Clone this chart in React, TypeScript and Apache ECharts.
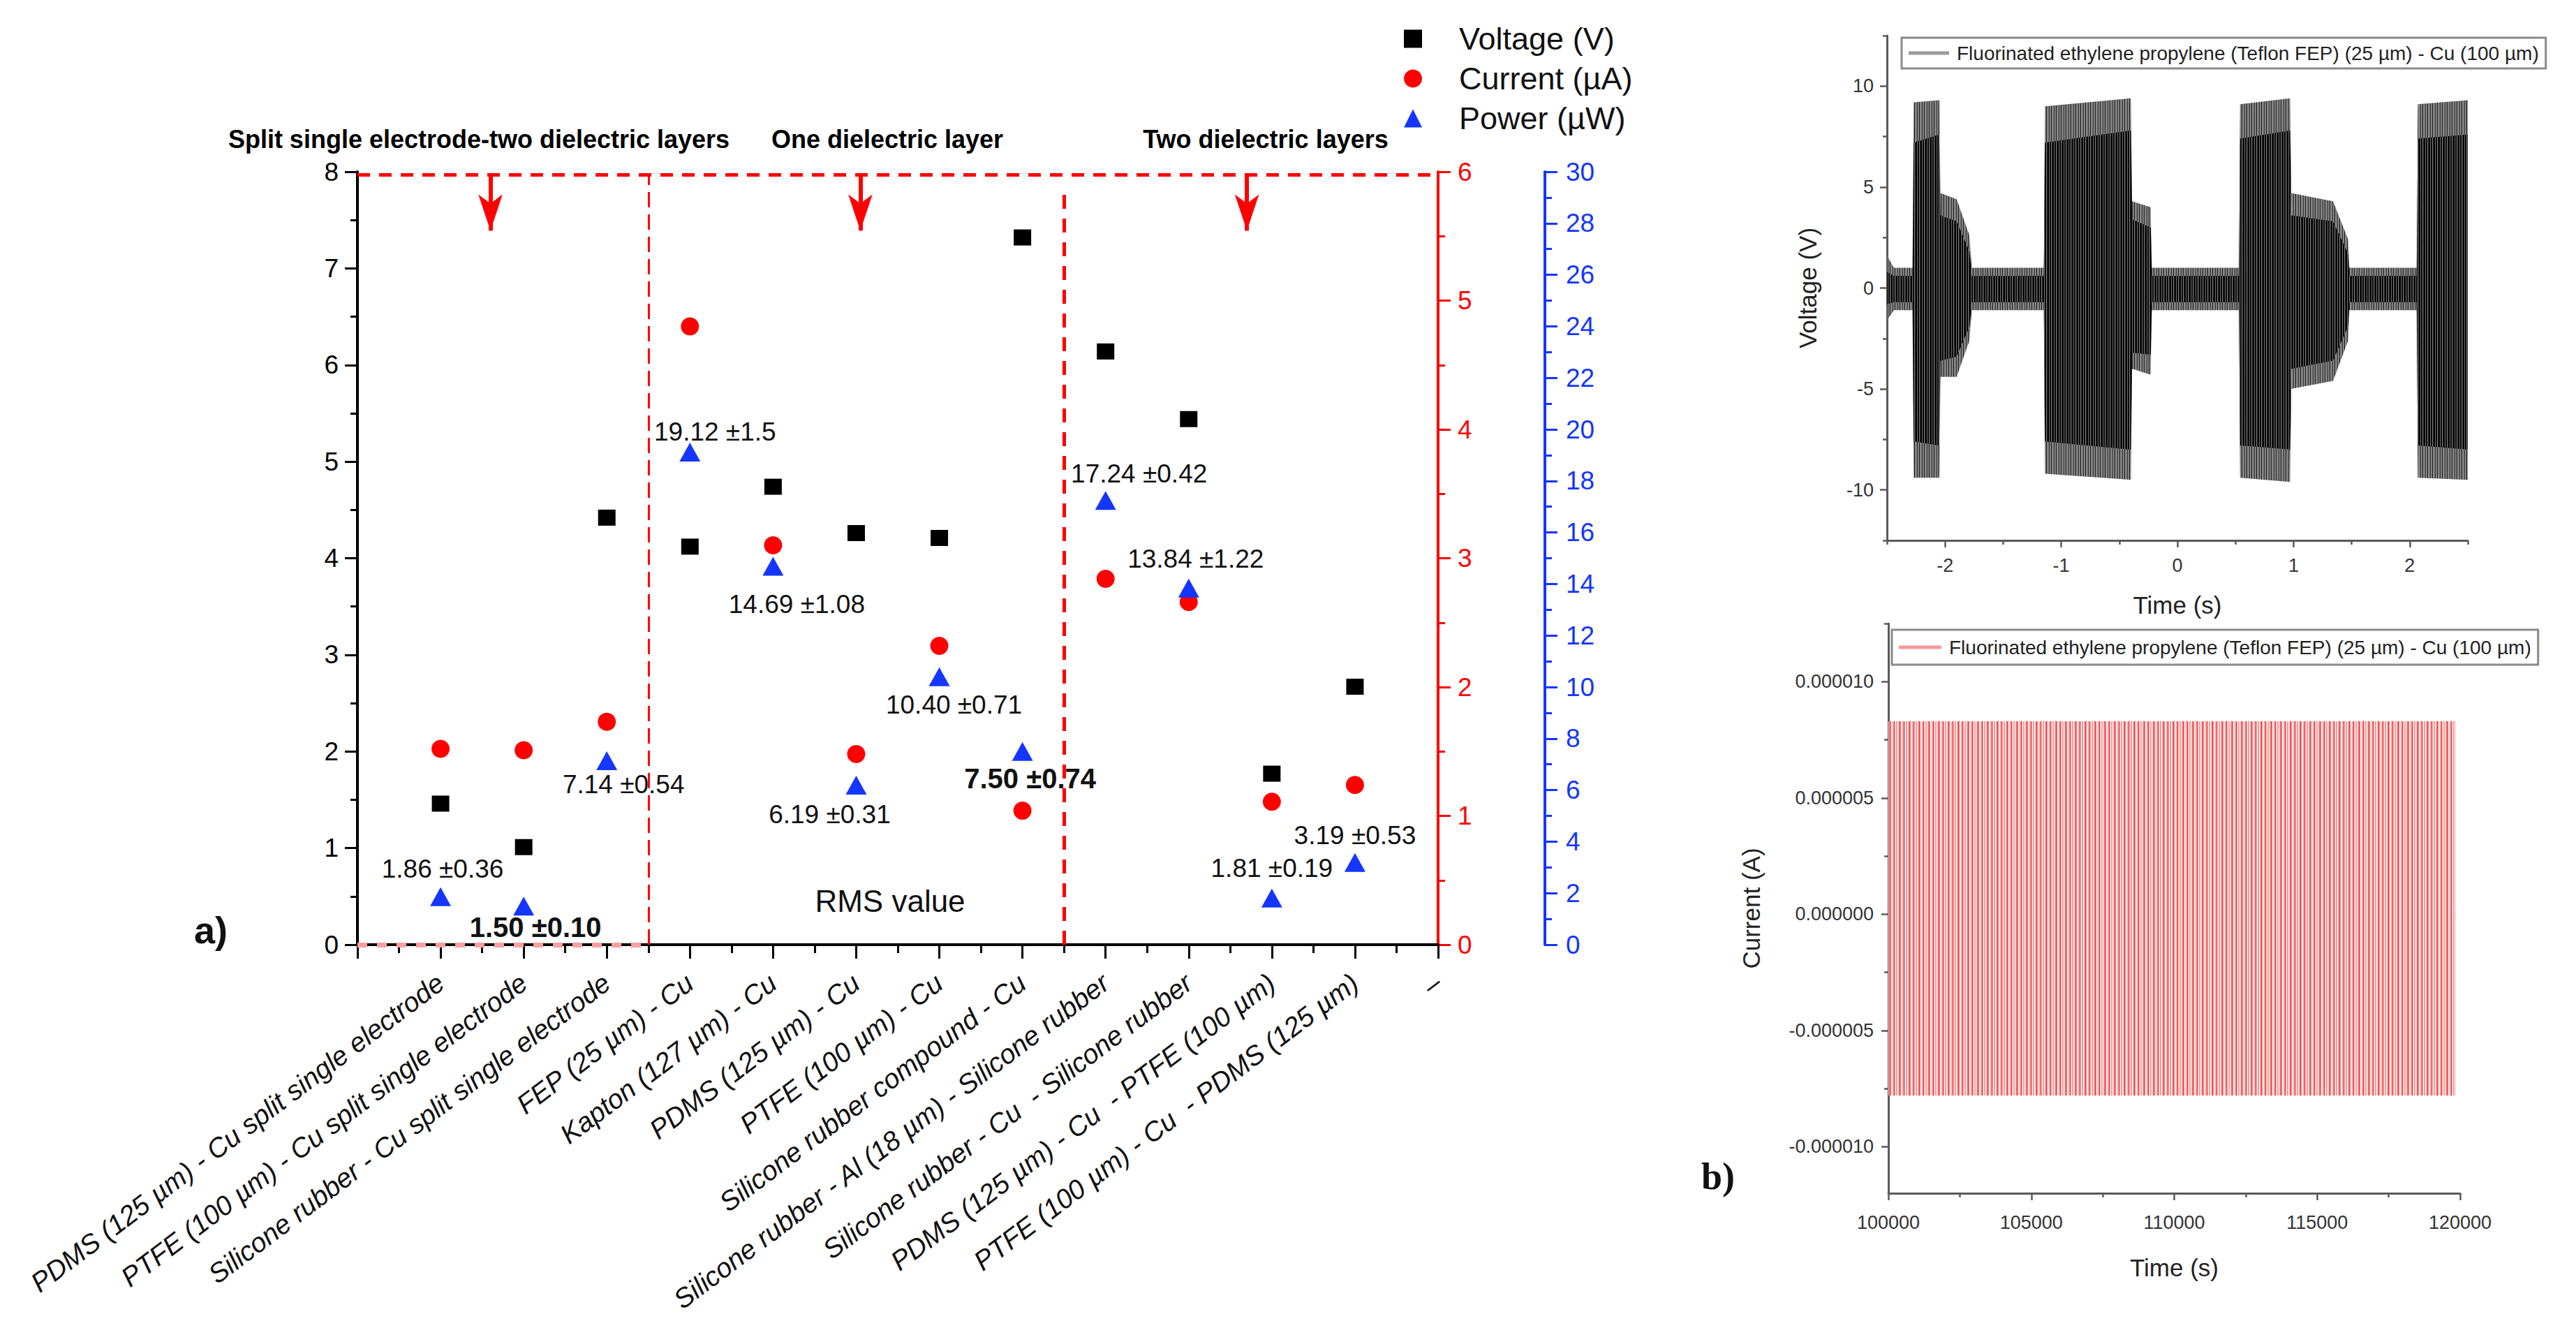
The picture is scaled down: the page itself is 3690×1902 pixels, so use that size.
import React, { useEffect, useRef } from 'react';
import * as echarts from 'echarts';

// ---------------- Panel a) data ----------------
const categories = [
  'PDMS (125 µm) - Cu split single electrode',
  'PTFE (100 µm) - Cu split single electrode',
  'Silicone rubber - Cu split single electrode',
  'FEP (25 µm) - Cu',
  'Kapton (127 µm) - Cu',
  'PDMS (125 µm) - Cu',
  'PTFE (100 µm) - Cu',
  'Silicone rubber compound - Cu',
  'Silicone rubber - Al (18 µm) - Silicone rubber',
  'Silicone rubber - Cu  - Silicone rubber',
  'PDMS (125 µm) - Cu  - PTFE (100 µm)',
  'PTFE (100 µm) - Cu  - PDMS (125 µm)',
  '–',
];
const voltage = [1.46, 1.01, 4.42, 4.12, 4.74, 4.26, 4.21, 7.32, 6.14, 5.44, 1.77, 2.67];
const current = [1.52, 1.51, 1.73, 4.8, 3.1, 1.48, 2.32, 1.04, 2.84, 2.66, 1.11, 1.24];
const power = [1.86, 1.5, 7.14, 19.12, 14.69, 6.19, 10.4, 7.5, 17.24, 13.84, 1.81, 3.19];
const powerErr = ['0.36', '0.10', '0.54', '1.5', '1.08', '0.31', '0.71', '0.74', '0.42', '1.22', '0.19', '0.53'];
const leftTicks = { min: 0, max: 8, interval: 1 };
const redTicks = { min: 0, max: 6, interval: 1 };
const blueTicks = { min: 0, max: 30, interval: 2 };
const sectionTitles = ['Split single electrode-two dielectric layers', 'One dielectric layer', 'Two dielectric layers'];
const sectionBoundaries = [3.5, 8.5];
const arrowX = [1.6, 6.05, 10.7];
const sectionTop = 7.97;
const arrowTip = 7.39;

// ---------------- Panel b) data ----------------
const legendText = 'Fluorinated ethylene propylene (Teflon FEP) (25 µm) - Cu (100 µm)';
const voltTime = [-2.5, -2.44, -2.28, -2.27, -2.05, -2.04, -1.9, -1.79, -1.77, -1.15, -1.14, -0.4, -0.39, -0.23, -0.22, 0.53, 0.54, 0.97, 0.98, 1.34, 1.47, 1.48, 2.06, 2.07, 2.5];
const voltOuterUp = [1.6, 1.0, 1.0, 9.2, 9.3, 4.7, 4.4, 2.6, 1.0, 1.0, 9.0, 9.4, 4.3, 4.0, 1.0, 1.0, 9.1, 9.4, 4.7, 4.3, 2.4, 1.0, 1.0, 9.1, 9.3];
const voltOuterLow = [-1.6, -1.1, -1.1, -9.4, -9.4, -4.4, -4.4, -2.6, -1.1, -1.1, -9.2, -9.5, -4.0, -4.3, -1.1, -1.1, -9.4, -9.6, -5.0, -4.6, -2.6, -1.1, -1.1, -9.4, -9.5];
const voltInnerUp = [0.8, 0.6, 0.6, 7.2, 7.6, 3.6, 3.3, 1.8, 0.6, 0.6, 7.2, 7.8, 3.4, 3.0, 0.6, 0.6, 7.4, 7.8, 3.6, 3.3, 1.7, 0.6, 0.6, 7.4, 7.6];
const voltInnerLow = [-0.8, -0.7, -0.7, -7.6, -7.8, -3.6, -3.4, -1.9, -0.7, -0.7, -7.6, -8.0, -3.2, -3.3, -0.7, -0.7, -7.8, -8.0, -4.0, -3.6, -1.9, -0.7, -0.7, -7.8, -8.0];
const voltYMajor = [-10, -5, 0, 5, 10];
const voltYMinor = [-12.5, -7.5, -2.5, 2.5, 7.5, 12.5];
const timeMajor = [-2, -1, 0, 1, 2];
const timeMinor = [-2.5, -1.5, -0.5, 0.5, 1.5, 2.5];
const curTime = [100000, 119850];
const curUp = [0.0000083, 0.0000083];
const curLow = [-0.0000078, -0.0000078];
const curYMajor = [-0.00001, -0.000005, 0, 0.000005, 0.00001];
const curYMinor = [-0.0000075, -0.0000025, 0.0000025, 0.0000075, 0.0000125];

// ---------------- layout / style ----------------
const FONT = '"Liberation Sans", Arial, sans-serif';
const RED = '#ff0000';
const BLUE = '#1436ff';
const GRAYAX = '#5a5a5a';
const labelOffsets = [[3, -40], [17, 30], [24, 34], [36, -29], [34, 55], [-38, 42], [21, 40], [11, 39], [48, -38], [10, -42], [0, -43], [0, -39]];
const labelBig = [false, true, false, false, false, false, false, true, false, false, false, false];
const redStripes = ['#f79b9b', '#f79b9b', '#ffffff', '#fbbcbc', '#f58888', '#ee3030', '#f79b9b', '#fdd5d5', '#ffffff', '#f6a2a2', '#f6a2a2', '#ff2a2a', '#f9b0b0', '#ffffff'];
const innerStripes = ['#000000', '#000000', '#6a6a6a', '#111111', '#000000', '#7a7a7a', '#2a2a2a'];
const outerStripes = ['#7c7c7c', '#7c7c7c', '#333333', '#8a8a8a', '#7c7c7c', '#1a1a1a', '#909090'];

function makePattern(colors: string[]) {
  const cv = document.createElement('canvas');
  cv.width = colors.length;
  cv.height = 2;
  const ctx = cv.getContext('2d')!;
  colors.forEach((c, i) => { ctx.fillStyle = c; ctx.fillRect(i, 0, 1, 2); });
  return { image: cv.toDataURL(), repeat: 'repeat', imageWidth: colors.length, imageHeight: 2 } as any;
}

function leftAxis(color: string) {
  return {
    axisLine: { show: true, onZero: false, lineStyle: { color, width: 4 } },
    axisTick: { show: true, length: 18, lineStyle: { color, width: 3 } },
    minorTick: { show: true, splitNumber: 2, length: 10, lineStyle: { color, width: 3 } },
    axisLabel: { color, fontSize: 37, margin: 27, fontFamily: FONT },
    splitLine: { show: false },
  };
}

function rightAxis(extra: any) {
  return {
    axisLine: { show: true, onZero: false, lineStyle: { color: GRAYAX, width: 3 } },
    axisTick: { show: true, length: 10, lineStyle: { color: GRAYAX, width: 2.5 } },
    axisLabel: { color: '#333', fontSize: 27, fontFamily: FONT },
    splitLine: { show: false },
    nameTextStyle: { color: '#222', fontSize: 35, fontFamily: FONT },
    ...extra,
  };
}

function minorAxis(gridIndex: number, min: number, max: number, values: number[], position: string) {
  return {
    type: 'value', gridIndex, min, max, position,
    axisLine: { show: false, onZero: false },
    axisLabel: { show: false },
    splitLine: { show: false },
    axisTick: { show: true, length: 6, customValues: values, lineStyle: { color: GRAYAX, width: 2.5 } },
  };
}

export default function App() {
  const ref = useRef<HTMLDivElement>(null);
  useEffect(() => {
    document.body.style.margin = '0';
    document.body.style.overflow = 'hidden';
    const chart = echarts.init(ref.current!, null, { renderer: 'svg' });

    const redPattern = makePattern(redStripes);
    const innerPattern = makePattern(innerStripes);
    const outerPattern = makePattern(outerStripes);

    const dashTop = { color: RED, width: 5, type: [18, 13] };
    const markData: any[] = [
      [{ coord: [0, sectionTop], lineStyle: dashTop }, { coord: [13, sectionTop] }],
      [{ coord: [sectionBoundaries[0], 0], lineStyle: { color: RED, width: 3, type: [22, 10] } }, { coord: [sectionBoundaries[0], sectionTop] }],
      [{ coord: [sectionBoundaries[1], 0], lineStyle: { color: RED, width: 5, type: [20, 14] } }, { coord: [sectionBoundaries[1], 7.84] }],
      [{ coord: [0, 0], lineStyle: { color: '#f7a0a0', width: 7, type: [14, 14] } }, { coord: [sectionBoundaries[0], 0] }],
      ...arrowX.map((x) => [
        { coord: [x, sectionTop], symbol: 'none', lineStyle: { color: RED, width: 6, type: 'solid' } },
        { coord: [x, arrowTip], symbol: 'arrow', symbolSize: [26, 52] },
      ]),
    ];

    const band = (name: string, xIdx: number, yIdx: number, xs: number[], ys: number[], color: any, z: number, origin: number) => ({
      type: 'line', name, xAxisIndex: xIdx, yAxisIndex: yIdx,
      data: xs.map((t, i) => [t, ys[i]]),
      showSymbol: false, symbol: 'none', silent: true, z,
      lineStyle: { width: 0, opacity: 0 },
      areaStyle: { color, opacity: 1, origin },
    });

    const option: any = {
      animation: false,
      textStyle: { fontFamily: FONT },
      grid: [
        { left: 512, top: 246, width: 1548, height: 1107 },
        { left: 2703, top: 51, width: 832, height: 723 },
        { left: 2705, top: 893, width: 819, height: 816 },
      ],
      legend: [
        {
          data: ['Voltage (V)', 'Current (µA)', 'Power (µW)'],
          orient: 'vertical', left: 2006, top: 28, itemWidth: 26, itemHeight: 26, itemGap: 12,
          textStyle: { fontSize: 45, color: '#111', fontFamily: FONT, padding: [0, 0, 0, 48] },
          selectedMode: false,
        },
        {
          data: [{ name: 'vFEP', icon: 'rect', itemStyle: { color: '#9a9a9a' } }],
          left: 2724, top: 54, itemWidth: 58, itemHeight: 5, padding: [8, 10],
          borderColor: '#8a8a8a', borderWidth: 3, formatter: () => legendText,
          textStyle: { fontSize: 28, color: '#222', fontFamily: FONT, padding: [0, 0, 0, 6] },
          selectedMode: false,
        },
        {
          data: [{ name: 'iFEP', icon: 'rect', itemStyle: { color: '#f79a9a' } }],
          left: 2710, top: 902, itemWidth: 61, itemHeight: 5, padding: [11, 10],
          borderColor: '#8a8a8a', borderWidth: 3, formatter: () => legendText,
          textStyle: { fontSize: 28, color: '#222', fontFamily: FONT, padding: [0, 0, 0, 6] },
          selectedMode: false,
        },
      ],
      xAxis: [
        {
          type: 'value', gridIndex: 0, min: 0, max: 13, interval: 1, z: 3,
          ...leftAxis('#000'),
          axisTick: { show: true, length: 20, lineStyle: { color: '#000', width: 3 } },
          minorTick: { show: true, splitNumber: 2, length: 12, lineStyle: { color: '#000', width: 3 } },
          axisLabel: {
            rotate: 37, fontStyle: 'italic', fontSize: 39, margin: 50, color: '#111', fontFamily: FONT,
            formatter: (v: number) => (v >= 1 ? categories[Math.round(v) - 1] : ''),
          },
        },
        rightAxis({
          type: 'value', gridIndex: 1, min: -2.5, max: 2.5, position: 'bottom',
          name: 'Time (s)', nameLocation: 'middle', nameGap: 75,
          axisTick: { show: true, length: 10, customValues: timeMajor, lineStyle: { color: GRAYAX, width: 2.5 } },
          axisLabel: { color: '#333', fontSize: 27, fontFamily: FONT, margin: 22, customValues: timeMajor },
        }),
        minorAxis(1, -2.5, 2.5, timeMinor, 'bottom'),
        rightAxis({
          type: 'value', gridIndex: 2, min: 100000, max: 120000, interval: 5000, position: 'bottom',
          name: 'Time (s)', nameLocation: 'middle', nameGap: 89,
          minorTick: { show: true, splitNumber: 2, length: 6, lineStyle: { color: GRAYAX, width: 2.5 } },
          axisLabel: { color: '#333', fontSize: 27, fontFamily: FONT, margin: 28, formatter: (v: number) => String(v) },
        }),
      ],
      yAxis: [
        { type: 'value', gridIndex: 0, position: 'left', ...leftTicks, ...leftAxis('#000') },
        { type: 'value', gridIndex: 0, position: 'right', offset: 0, ...redTicks, ...leftAxis(RED), axisLabel: { color: RED, fontSize: 37, margin: 28, fontFamily: FONT } },
        { type: 'value', gridIndex: 0, position: 'right', offset: 153, ...blueTicks, ...leftAxis(BLUE), axisLabel: { color: BLUE, fontSize: 37, margin: 30, fontFamily: FONT } },
        rightAxis({
          type: 'value', gridIndex: 1, min: -12.5, max: 12.5, position: 'left',
          name: 'Voltage (V)', nameLocation: 'middle', nameGap: 96, nameRotate: 90,
          axisTick: { show: true, length: 10, customValues: voltYMajor, lineStyle: { color: GRAYAX, width: 2.5 } },
          axisLabel: { color: '#333', fontSize: 27, fontFamily: FONT, margin: 19, customValues: voltYMajor },
        }),
        minorAxis(1, -12.5, 12.5, voltYMinor, 'left'),
        rightAxis({
          type: 'value', gridIndex: 2, min: -0.000012, max: 0.0000125, position: 'left',
          name: 'Current (A)', nameLocation: 'middle', nameGap: 179, nameRotate: 90,
          axisTick: { show: true, length: 10, customValues: curYMajor, lineStyle: { color: GRAYAX, width: 2.5 } },
          axisLabel: { color: '#333', fontSize: 27, fontFamily: FONT, margin: 21, customValues: curYMajor, formatter: (v: number) => v.toFixed(6) },
        }),
        minorAxis(2, -0.000012, 0.0000125, curYMinor, 'left'),
      ],
      series: [
        {
          type: 'scatter', name: 'Voltage (V)', xAxisIndex: 0, yAxisIndex: 0,
          symbol: 'rect', symbolSize: [25, 23], itemStyle: { color: '#000', opacity: 1 }, z: 4,
          data: voltage.map((v, i) => [i + 1, v]),
          markLine: { silent: true, symbol: 'none', label: { show: false }, data: markData },
        },
        {
          type: 'scatter', name: 'Current (µA)', xAxisIndex: 0, yAxisIndex: 1,
          symbol: 'circle', symbolSize: 26, itemStyle: { color: RED, opacity: 1 }, z: 4,
          data: current.map((v, i) => [i + 1, v]),
        },
        {
          type: 'scatter', name: 'Power (µW)', xAxisIndex: 0, yAxisIndex: 2,
          symbol: 'triangle', symbolSize: [30, 27], itemStyle: { color: BLUE, opacity: 1 }, z: 4,
          data: power.map((v, i) => ({
            value: [i + 1, v],
            label: {
              show: true, position: 'inside', offset: labelOffsets[i],
              formatter: `${v.toFixed(2)} ±${powerErr[i]}`,
              color: '#111', opacity: 1, fontFamily: FONT,
              fontSize: labelBig[i] ? 40 : 37, fontWeight: labelBig[i] ? 'bold' : 'normal',
            },
          })),
        },
        band('vFEP', 1, 3, voltTime, voltOuterUp, outerPattern, 2, -0.3),
        band('vOuterLow', 1, 3, voltTime, voltOuterLow, outerPattern, 2, 0.3),
        band('vInnerUp', 1, 3, voltTime, voltInnerUp, innerPattern, 3, -0.3),
        band('vInnerLow', 1, 3, voltTime, voltInnerLow, innerPattern, 3, 0.3),
        band('iFEP', 3, 5, curTime, curUp, redPattern, 2, -0.0000003),
        band('iLow', 3, 5, curTime, curLow, redPattern, 2, 0.0000003),
      ],
      graphic: [
        { type: 'text', x: 686, y: 199, style: { text: sectionTitles[0], fontSize: 36, fontWeight: 'bold', fontFamily: FONT, fill: '#000', textAlign: 'center', textVerticalAlign: 'middle' } },
        { type: 'text', x: 1271, y: 199, style: { text: sectionTitles[1], fontSize: 36, fontWeight: 'bold', fontFamily: FONT, fill: '#000', textAlign: 'center', textVerticalAlign: 'middle' } },
        { type: 'text', x: 1813, y: 199, style: { text: sectionTitles[2], fontSize: 36, fontWeight: 'bold', fontFamily: FONT, fill: '#000', textAlign: 'center', textVerticalAlign: 'middle' } },
        { type: 'text', x: 1275, y: 1290, style: { text: 'RMS value', fontSize: 44, fontFamily: FONT, fill: '#111', textAlign: 'center', textVerticalAlign: 'middle' } },
        { type: 'text', x: 302, y: 1332, style: { text: 'a)', fontSize: 54, fontWeight: 'bold', fontFamily: FONT, fill: '#111', textAlign: 'center', textVerticalAlign: 'middle' } },
        { type: 'text', x: 2461, y: 1685, style: { text: 'b)', fontSize: 54, fontWeight: 'bold', fontFamily: '"Liberation Serif", serif', fill: '#111', textAlign: 'center', textVerticalAlign: 'middle' } },
      ],
    };
    chart.setOption(option);
    return () => chart.dispose();
  }, []);
  return <div ref={ref} style={{ width: 3690, height: 1902 }} />;
}
